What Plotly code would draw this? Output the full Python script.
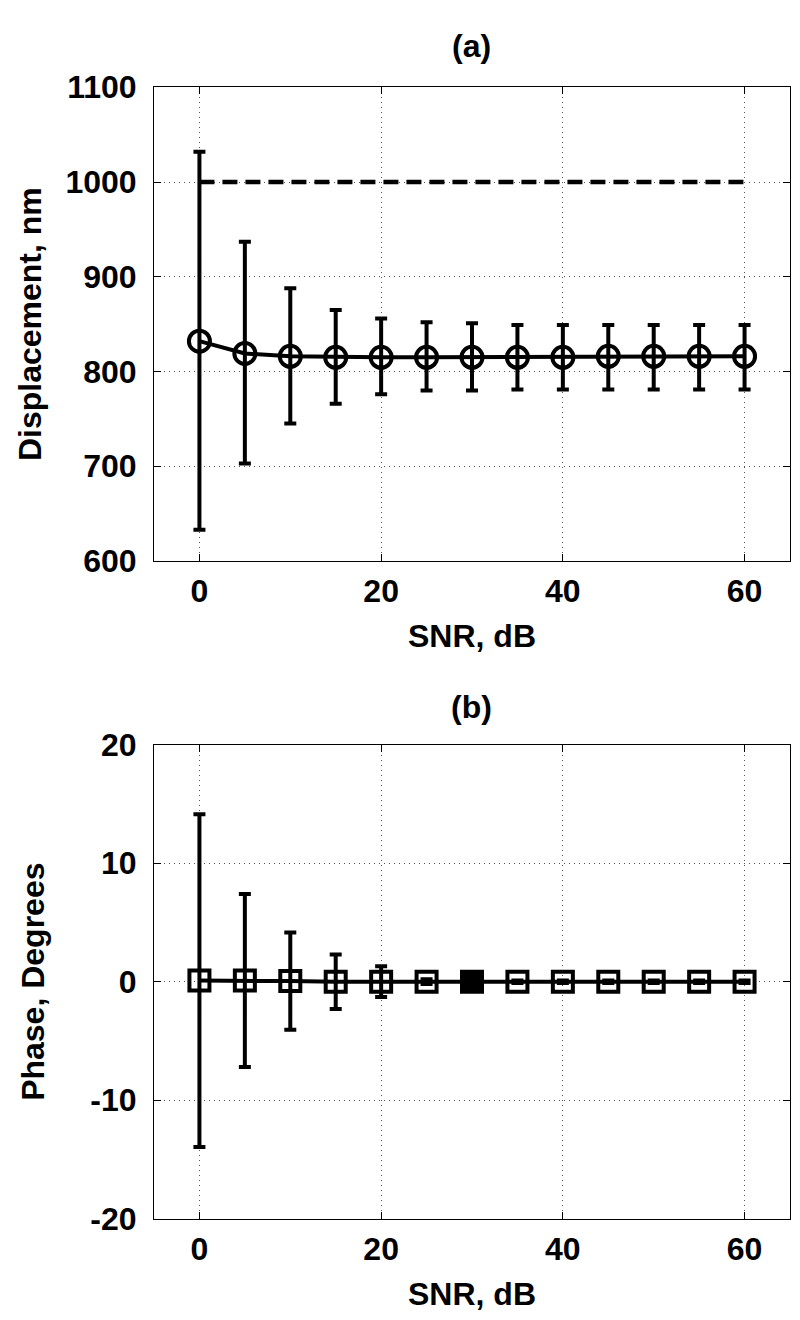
import plotly.graph_objects as go

# SNR levels (dB)
snr = [0, 5, 10, 15, 20, 25, 30, 35, 40, 45, 50, 55, 60]

# (a) displacement estimate, nm, with error bars
disp_mean = [832, 819, 816, 815, 815, 815, 815, 815, 815, 816, 816, 816, 816]
disp_err_up = [200, 118, 72, 50, 41, 37, 36, 34, 34, 33, 33, 33, 33]
disp_err_down = [199, 116, 71, 49, 39, 35, 35, 34, 34, 35, 35, 35, 35]
disp_true = [1000, 1000]
true_x = [0, 60]

# (b) phase estimate, degrees, with error bars
phase_mean = [0.1, 0.1, 0.05, 0.0, 0.0, 0.0, 0.0, 0.0, 0.0, 0.0, 0.0, 0.0, 0.0]
phase_err = [14.05, 7.3, 4.1, 2.3, 1.3, 0.2, 0.1, 0.1, 0.1, 0.1, 0.1, 0.1, 0.1]
# the 30 dB square comes out filled in the original
phase_symbols = ["square-open"] * 6 + ["square"] + ["square-open"] * 6

FONT = "Liberation Sans"
FS = 32
W, H = 800, 1320

# axes boxes in pixels (left, right, top, bottom)
X0, X1 = 146, 782
TOP_A, BOT_A = 63, 550
TOP_B, BOT_B = 739, 1226

fig = go.Figure()

fig.add_trace(go.Scatter(
    x=true_x, y=disp_true, mode="lines",
    line=dict(color="black", width=4.5, dash="15px,8px"),
    xaxis="x", yaxis="y", showlegend=False))

fig.add_trace(go.Scatter(
    x=snr, y=disp_mean, mode="lines+markers",
    line=dict(color="black", width=4),
    marker=dict(symbol="circle-open", size=21, color="black", line=dict(width=4)),
    error_y=dict(type="data", array=disp_err_up, arrayminus=disp_err_down,
                 color="black", thickness=4, width=6),
    xaxis="x", yaxis="y", showlegend=False))

fig.add_trace(go.Scatter(
    x=snr, y=phase_mean, mode="lines+markers",
    line=dict(color="black", width=4),
    marker=dict(symbol=phase_symbols, size=20, color="black",
                line=dict(width=4, color="black")),
    error_y=dict(type="data", array=phase_err, color="black", thickness=4, width=6),
    xaxis="x2", yaxis="y2", showlegend=False))

axis_common = dict(
    showline=True, linecolor="black", linewidth=1, mirror="ticks",
    ticks="inside", ticklen=7, tickcolor="black", tickwidth=1,
    showgrid=True, gridcolor="#555555", griddash="1px,4px", gridwidth=1,
    zeroline=False,
    tickfont=dict(family=FONT, size=FS, color="black", weight="bold"),
)

def title(text, standoff):
    return dict(text=text, standoff=standoff,
                font=dict(family=FONT, size=FS, color="black", weight="bold"))

def ydom(top, bot):
    return [1 - bot / H, 1 - top / H]

xdom = [X0 / W, X1 / W]

fig.update_layout(
    width=W, height=H,
    margin=dict(l=0, r=0, t=0, b=0),
    paper_bgcolor="white", plot_bgcolor="white",
    xaxis=dict(axis_common, domain=xdom, range=[-5, 65],
               tickvals=[0, 20, 40, 60], anchor="y", title=title("SNR, dB", 16),
               ticklabelstandoff=2),
    yaxis=dict(axis_common, domain=ydom(TOP_A, BOT_A), range=[600, 1100],
               tickvals=[600, 700, 800, 900, 1000, 1100], anchor="x",
               title=title("Displacement, nm", 14), ticklabelstandoff=10),
    xaxis2=dict(axis_common, domain=xdom, range=[-5, 65],
                tickvals=[0, 20, 40, 60], anchor="y2", title=title("SNR, dB", 16),
                ticklabelstandoff=2),
    yaxis2=dict(axis_common, domain=ydom(TOP_B, BOT_B), range=[-20, 20],
                tickvals=[-20, -10, 0, 10, 20], ticktext=["-20", "-10", "0", "10", "20"],
                anchor="x2", title=title("Phase, Degrees", 36), ticklabelstandoff=10),
    annotations=[
        dict(text="<b>(a)</b>", xref="paper", yref="paper",
             x=(X0 + X1) / 2 / W, y=1 - 21 / H, showarrow=False,
             xanchor="center", yanchor="middle",
             font=dict(family=FONT, size=FS, color="black")),
        dict(text="<b>(b)</b>", xref="paper", yref="paper",
             x=(X0 + X1) / 2 / W, y=1 - 700 / H, showarrow=False,
             xanchor="center", yanchor="middle",
             font=dict(family=FONT, size=FS, color="black")),
    ],
)

fig.write_html("out.html")
